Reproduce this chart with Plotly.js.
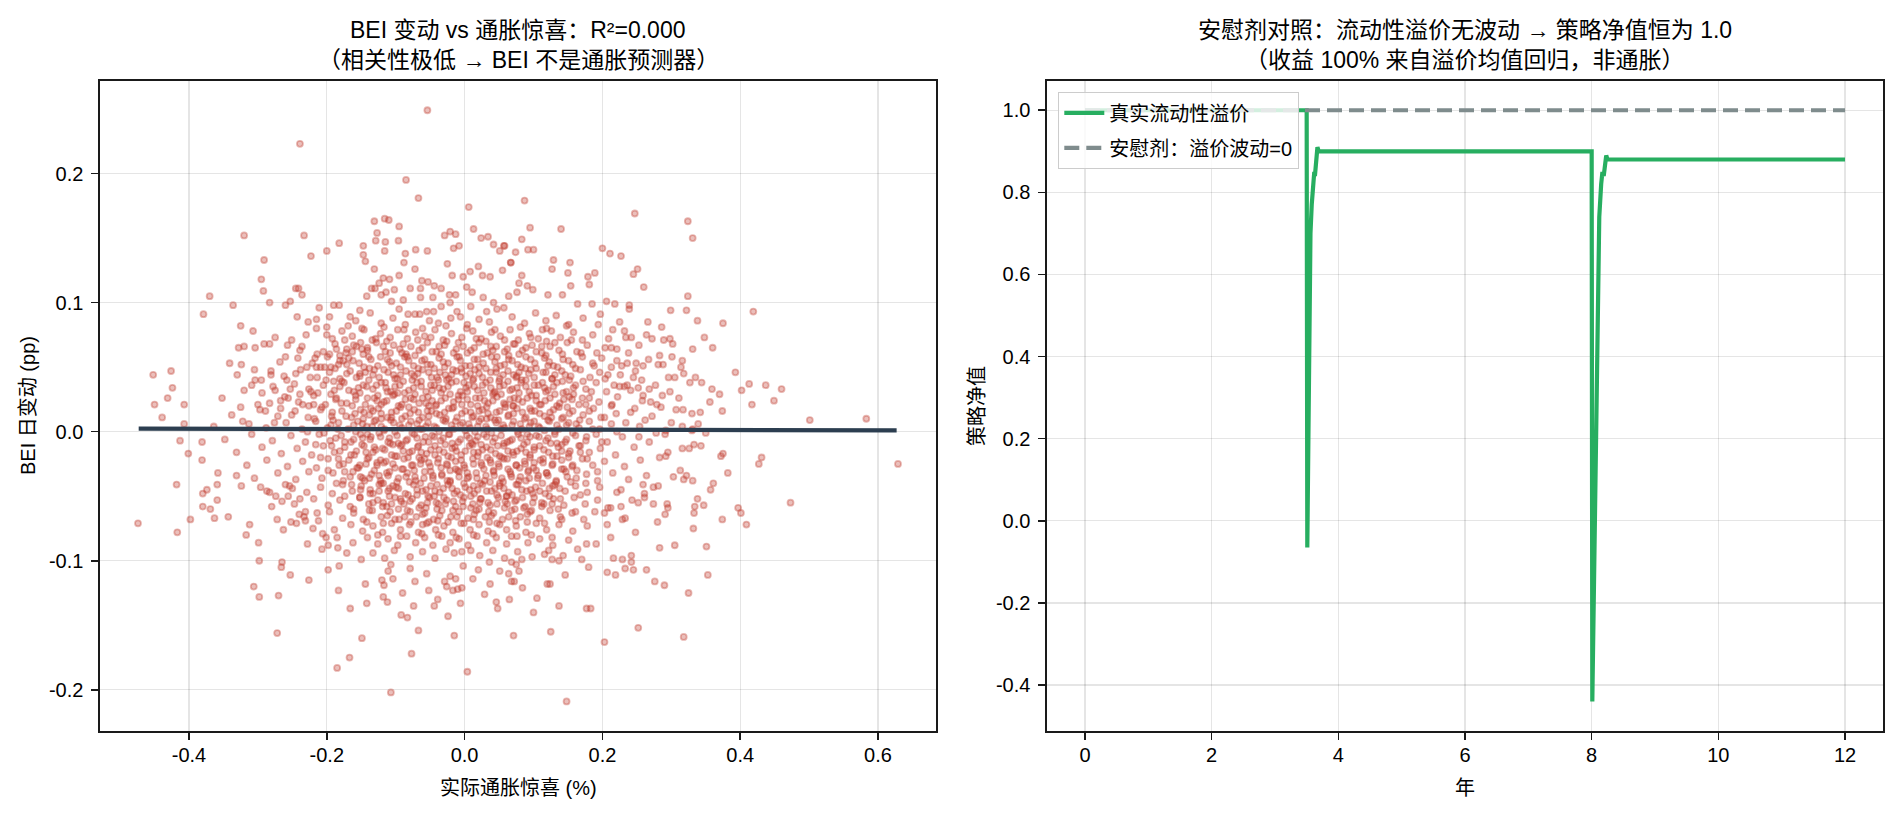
<!DOCTYPE html>
<html>
<head>
<meta charset="utf-8">
<script src="https://cdn.plot.ly/plotly-3.0.1.min.js"></script>
<style>
  html, body { margin: 0; padding: 0; background: #fff; }
  #chart { width: 1899px; height: 816px; }
</style>
</head>
<body>
<div id="chart"></div>
<script>
// Left panel: [inflation surprise %, BEI daily change pp]
const outerUpperLeft = [
  [-0.054,0.249],[-0.239,0.223],[-0.085,0.195],[-0.067,0.181],[0.006,0.174],[-0.131,0.163],[-0.116,0.165],[-0.110,0.164],
  [-0.095,0.159],[-0.320,0.152],[-0.233,0.152],[-0.127,0.154],[-0.129,0.148],[-0.115,0.147],[-0.096,0.148],[-0.029,0.152],
  [-0.021,0.155],[-0.013,0.153],[0.013,0.157],[-0.008,0.144],[-0.016,0.142],[-0.182,0.146],[-0.200,0.140],[-0.223,0.136],
  [-0.291,0.133],[-0.147,0.144],[-0.147,0.137],[-0.144,0.132],[-0.116,0.140],[-0.086,0.138],[-0.071,0.141],[-0.054,0.140],
  [-0.088,0.131],[-0.072,0.126],[-0.131,0.126],[-0.025,0.130],[-0.018,0.121],[-0.002,0.120],[0.008,0.124],[0.020,0.128],
  [0.024,0.150],[0.034,0.151],[0.042,0.145],[0.051,0.140],[0.058,0.144],[0.067,0.131],[0.055,0.125],[0.026,0.121],
  [0.037,0.120],[-0.295,0.118],[-0.292,0.109],[-0.245,0.111],[-0.241,0.111],[-0.236,0.106],[-0.283,0.100],[-0.370,0.105],
  [-0.379,0.091],[-0.336,0.098],[-0.260,0.098],[-0.253,0.101],[-0.243,0.089],[-0.325,0.082],[-0.307,0.078],[-0.328,0.065],
  [-0.320,0.066],[-0.304,0.065],[-0.291,0.068],[-0.283,0.068],[-0.275,0.073],[-0.260,0.058],[-0.257,0.067],[-0.251,0.071],
  [-0.239,0.063],[-0.230,0.075],[-0.227,0.085],[-0.215,0.087],[-0.215,0.080],[-0.211,0.096],[-0.200,0.081],[-0.200,0.075],
  [-0.196,0.089],[-0.190,0.098],[-0.182,0.098],[-0.169,0.082],[-0.166,0.089],[-0.152,0.094],[-0.142,0.105],[-0.135,0.111],
  [-0.130,0.111],[-0.124,0.115],[-0.118,0.119],[-0.109,0.118],[-0.095,0.121],[-0.121,0.106],[-0.114,0.108],[-0.102,0.110],
  [-0.089,0.102],[-0.079,0.111],[-0.064,0.111],[-0.062,0.117],[-0.053,0.116],[-0.044,0.113],[-0.034,0.111],[-0.046,0.104],
  [-0.022,0.106],[-0.013,0.106],[0.003,0.112],[0.011,0.108],[0.027,0.104],[0.042,0.100],[0.064,0.105],[0.076,0.108],
  [-0.064,0.104],[-0.106,0.101],[-0.095,0.095],[-0.082,0.091],[-0.072,0.091],[-0.065,0.091],[-0.055,0.093],[-0.045,0.093],
  [-0.034,0.097],[-0.021,0.100],[-0.020,0.088],[-0.006,0.089],[0.009,0.097],[0.032,0.093],[0.047,0.095],[0.057,0.096],
  [-0.452,0.044],[-0.426,0.047],[-0.424,0.034],[-0.431,0.026],[-0.450,0.021],[-0.407,0.021],[-0.439,0.011],[-0.341,0.053],
  [-0.324,0.052],[-0.330,0.044],[-0.305,0.048],[-0.304,0.040],[-0.295,0.040],[-0.281,0.044],[-0.278,0.035],[-0.320,0.032],
  [-0.294,0.030],[-0.300,0.021],[-0.289,0.016],[-0.325,0.019],[-0.267,0.024],[-0.267,0.018],[-0.258,0.040],[-0.245,0.045],
  [-0.239,0.029],[-0.229,0.050],[-0.224,0.042],[-0.226,0.033],[-0.253,0.033],[-0.256,0.026],[-0.235,0.021],[-0.219,0.021],
  [-0.251,0.013],[-0.276,0.007],[-0.313,0.006],[-0.407,0.006],[-0.214,0.060],[-0.217,0.057],[-0.215,0.050],[-0.203,0.050],
  [-0.194,0.050],[-0.190,0.039],[-0.181,0.055],[-0.176,0.055],[-0.186,0.064],[-0.171,0.064],[-0.161,0.067],[-0.149,0.064]
];

const outerUpperRight = [
  [0.087,0.179],[0.247,0.169],[0.324,0.163],[0.331,0.150],[0.095,0.158],[0.140,0.157],[0.083,0.149],[0.057,0.144],
  [0.074,0.139],[0.092,0.141],[0.100,0.141],[0.067,0.131],[0.129,0.133],[0.127,0.126],[0.153,0.131],[0.150,0.123],
  [0.200,0.142],[0.211,0.138],[0.227,0.136],[0.179,0.120],[0.189,0.123],[0.181,0.114],[0.251,0.126],[0.245,0.122],
  [0.260,0.112],[0.083,0.121],[0.079,0.115],[0.091,0.113],[0.099,0.110],[0.121,0.106],[0.142,0.106],[0.154,0.113],
  [0.164,0.099],[0.185,0.099],[0.206,0.101],[0.218,0.099],[0.239,0.098],[0.239,0.095],[0.299,0.094],[0.322,0.094],
  [0.324,0.105],[0.419,0.093],[0.338,0.086],[0.375,0.084],[0.266,0.085],[0.286,0.081],[0.348,0.073],[0.360,0.065],
  [0.331,0.064],[0.393,0.046],[0.413,0.037],[0.402,0.032],[0.437,0.036],[0.460,0.033],[0.449,0.024],[0.417,0.021],
  [0.501,0.009],[0.583,0.010],[0.374,0.016],[0.330,0.014],[0.342,0.015],[0.307,0.017],[0.317,0.017],[0.359,0.033],
  [0.370,0.029],[0.335,0.042],[0.344,0.038],[0.327,0.038],[0.316,0.055],[0.314,0.050],[0.296,0.042],[0.305,0.042],
  [0.283,0.059],[0.281,0.052],[0.288,0.052],[0.287,0.028],[0.277,0.036],[0.264,0.075],[0.272,0.072],[0.289,0.071],
  [0.298,0.072],[0.302,0.068],[0.238,0.061],[0.249,0.053],[0.259,0.051],[0.245,0.042],[0.257,0.040],[0.234,0.073],
  [0.242,0.073],[0.225,0.085],[0.215,0.079],[0.194,0.083],[0.204,0.065],[0.213,0.065],[0.221,0.055],[0.228,0.051],
  [0.208,0.044],[0.213,0.050],[0.217,0.036],[0.225,0.035],[0.232,0.035],[0.241,0.032],[0.252,0.034],[0.259,0.028],
  [0.270,0.023],[0.279,0.021],[0.247,0.018],[0.214,0.021],[0.220,0.014],[0.234,0.007],[0.254,0.004],[0.300,0.007],
  [0.339,0.006],[0.292,0.001],[0.331,0.002]
];

const outerLowerLeft = [
  [-0.474,-0.071],[-0.417,-0.078],[-0.418,-0.041],[-0.413,-0.007],[-0.381,-0.008],[-0.401,-0.017],[-0.381,-0.022],[-0.398,-0.068],
  [-0.380,-0.048],[-0.374,-0.045],[-0.380,-0.058],[-0.369,-0.060],[-0.359,-0.053],[-0.359,-0.041],[-0.358,-0.032],[-0.363,-0.067],
  [-0.343,-0.066],[-0.331,-0.034],[-0.324,-0.042],[-0.312,-0.072],[-0.317,-0.080],[-0.299,-0.086],[-0.298,-0.100],[-0.306,-0.120],
  [-0.298,-0.128],[-0.270,-0.127],[-0.272,-0.156],[-0.265,-0.101],[-0.266,-0.105],[-0.253,-0.111],[-0.226,-0.115],[-0.296,-0.043],
  [-0.283,-0.047],[-0.280,-0.058],[-0.272,-0.068],[-0.263,-0.076],[-0.252,-0.070],[-0.244,-0.071],[-0.260,-0.041],[-0.250,-0.044],
  [-0.274,-0.050],[-0.265,-0.054],[-0.256,-0.050],[-0.239,-0.052],[-0.240,-0.064],[-0.231,-0.062],[-0.231,-0.069],[-0.220,-0.075],
  [-0.214,-0.063],[-0.212,-0.069],[-0.228,-0.087],[-0.206,-0.079],[-0.201,-0.082],[-0.198,-0.088],[-0.207,-0.091],[-0.185,-0.082],
  [-0.184,-0.090],[-0.171,-0.094],[-0.198,-0.107],[-0.182,-0.104],[-0.183,-0.123],[-0.166,-0.137],[-0.142,-0.133],[-0.144,-0.118],
  [-0.149,-0.160],[-0.167,-0.175],[-0.185,-0.183],[-0.107,-0.202],[-0.077,-0.172],[0.004,-0.186],[-0.015,-0.158],[-0.067,-0.154],
  [-0.092,-0.142],[-0.083,-0.144],[-0.074,-0.135],[-0.044,-0.135],[-0.039,-0.130],[-0.024,-0.143],[-0.006,-0.133],[-0.052,-0.123],
  [-0.090,-0.125],[-0.118,-0.128],[-0.112,-0.132],[-0.120,-0.115],[-0.117,-0.119],[-0.104,-0.114],[-0.111,-0.108],[-0.072,-0.116],
  [-0.055,-0.110],[-0.079,-0.106],[-0.107,-0.103],[-0.116,-0.098],[-0.150,-0.099],[-0.029,-0.116],[-0.021,-0.112],[-0.013,-0.114],
  [-0.026,-0.120],[-0.017,-0.123],[-0.010,-0.122],[-0.004,-0.121],[0.029,-0.126],[0.046,-0.132],[0.048,-0.137],[0.071,-0.158],
  [0.065,-0.130],[0.037,-0.118],[0.012,-0.114],[0.020,-0.107],[0.051,-0.108],[0.064,-0.110],[0.036,-0.101],[-0.002,-0.104],
  [0.009,-0.092],[-0.015,-0.094],[-0.004,-0.093]
];

const outerLowerRight = [
  [0.629,-0.025],[0.473,-0.055],[0.431,-0.020],[0.427,-0.025],[0.382,-0.032],[0.361,-0.040],[0.357,-0.045],[0.397,-0.059],
  [0.401,-0.063],[0.409,-0.072],[0.374,-0.068],[0.375,-0.017],[0.372,-0.019],[0.343,-0.011],[0.333,-0.010],[0.316,-0.013],
  [0.326,-0.013],[0.313,-0.030],[0.322,-0.034],[0.331,-0.038],[0.318,-0.037],[0.303,-0.035],[0.338,-0.052],[0.334,-0.058],
  [0.347,-0.057],[0.333,-0.063],[0.332,-0.075],[0.351,-0.089],[0.353,-0.111],[0.325,-0.125],[0.318,-0.159],[0.252,-0.152],
  [0.203,-0.163],[0.148,-0.209],[0.125,-0.155],[0.100,-0.140],[0.105,-0.129],[0.137,-0.135],[0.177,-0.137],[0.183,-0.137],
  [0.084,-0.121],[0.120,-0.118],[0.124,-0.118],[0.146,-0.111],[0.180,-0.105],[0.207,-0.109],[0.219,-0.111],[0.216,-0.098],
  [0.229,-0.099],[0.242,-0.096],[0.242,-0.101],[0.233,-0.106],[0.245,-0.107],[0.264,-0.107],[0.276,-0.116],[0.290,-0.119],
  [0.283,-0.090],[0.305,-0.088],[0.248,-0.078],[0.212,-0.082],[0.207,-0.072],[0.229,-0.068],[0.233,-0.067],[0.208,-0.059],
  [0.212,-0.059],[0.203,-0.063],[0.280,-0.070],[0.291,-0.064],[0.294,-0.056],[0.295,-0.059],[0.274,-0.056],[0.261,-0.048],
  [0.261,-0.051],[0.274,-0.043],[0.281,-0.042],[0.243,-0.053],[0.259,-0.041],[0.264,-0.034],[0.221,-0.047],[0.191,-0.087],
  [0.177,-0.087],[0.170,-0.099],[0.164,-0.091],[0.127,-0.099],[0.137,-0.100],[0.116,-0.095],[0.079,-0.108],[0.068,-0.116],
  [0.072,-0.116],[0.083,-0.099],[0.068,-0.101],[0.075,-0.103],[0.283,-0.020],[0.292,-0.019],[0.295,-0.016],[0.253,-0.004],
  [0.278,-0.001],[0.291,-0.002],[0.350,-0.001],[0.330,0.001]
];

const coreUpper = [
  [-0.158,0.086],[-0.137,0.092],[-0.121,0.084],[-0.104,0.088],[-0.086,0.083],[-0.051,0.086],[-0.038,0.084],[-0.011,0.093],
  [0.004,0.083],[0.021,0.087],[0.036,0.085],[0.069,0.089],[0.087,0.084],[0.103,0.092],[0.118,0.086],[0.133,0.090],
  [0.151,0.083],[0.172,0.088],[0.197,0.091],[0.113,0.079],
  [-0.192,0.072],[-0.178,0.078],[-0.163,0.074],[-0.146,0.079],[-0.134,0.071],[-0.122,0.076],[-0.108,0.073],[-0.097,0.079],
  [-0.083,0.072],[-0.071,0.077],[-0.058,0.074],[-0.043,0.079],[-0.031,0.071],[-0.019,0.076],[-0.004,0.073],[0.012,0.078],
  [0.024,0.072],[0.039,0.077],[0.052,0.074],[0.066,0.079],[0.078,0.071],[0.094,0.076],[0.107,0.072],[0.126,0.078],
  [0.139,0.073],[0.158,0.077],[0.171,0.071],[0.186,0.075],[0.209,0.072],[0.232,0.078],
  [-0.236,0.066],[-0.205,0.062],[-0.188,0.068],[-0.172,0.061],[-0.157,0.066],[-0.141,0.063],[-0.128,0.069],[-0.115,0.062],
  [-0.103,0.067],[-0.091,0.061],[-0.078,0.066],[-0.066,0.063],[-0.054,0.069],[-0.041,0.062],[-0.029,0.067],[-0.016,0.061],
  [-0.002,0.066],[0.009,0.063],[0.021,0.069],[0.033,0.061],[0.046,0.066],[0.058,0.062],[0.071,0.068],[0.084,0.063],
  [0.098,0.067],[0.112,0.061],[0.124,0.066],[0.137,0.063],[0.149,0.069],[0.163,0.062],[0.178,0.067],[0.192,0.061],
  [0.221,0.064],[0.253,0.067],[0.047,0.058],[-0.083,0.058],
  [-0.268,0.054],[-0.242,0.057],[-0.221,0.053],[-0.199,0.058],[-0.183,0.052],[-0.168,0.057],[-0.153,0.053],[-0.139,0.058],
  [-0.126,0.051],[-0.112,0.056],[-0.099,0.053],[-0.087,0.058],[-0.074,0.051],[-0.062,0.055],[-0.049,0.052],[-0.037,0.057],
  [-0.024,0.053],[-0.011,0.058],[0.001,0.051],[0.014,0.056],[0.027,0.053],[0.039,0.058],[0.052,0.051],[0.064,0.056],
  [0.077,0.052],[0.089,0.058],[0.102,0.053],[0.116,0.057],[0.129,0.051],[0.143,0.056],[0.157,0.052],[0.171,0.058],
  [0.186,0.053],[0.199,0.057],[0.236,0.053],[0.267,0.056],[0.301,0.058],
  [-0.281,0.047],[-0.262,0.043],[-0.238,0.048],[-0.214,0.042],[-0.196,0.046],[-0.181,0.041],[-0.166,0.047],[-0.152,0.043],
  [-0.138,0.049],[-0.124,0.042],[-0.111,0.046],[-0.098,0.041],[-0.085,0.047],[-0.073,0.043],[-0.061,0.048],[-0.048,0.042],
  [-0.036,0.046],[-0.023,0.041],[-0.012,0.047],[0.002,0.043],[0.015,0.048],[0.026,0.042],[0.038,0.046],[0.051,0.041],
  [0.063,0.047],[0.076,0.043],[0.088,0.049],[0.101,0.042],[0.114,0.046],[0.127,0.041],[0.141,0.047],[0.154,0.043],
  [0.168,0.048],[0.182,0.042],[0.196,0.046],[0.226,0.044],[0.248,0.047],[0.318,0.045],[-0.005,0.049],[0.083,0.040],
  [-0.309,0.036],[-0.275,0.032],[-0.247,0.037],[-0.223,0.031],[-0.205,0.036],[-0.189,0.032],[-0.175,0.038],[-0.161,0.031],
  [-0.147,0.036],[-0.133,0.033],[-0.121,0.038],[-0.107,0.031],[-0.094,0.036],[-0.081,0.032],[-0.069,0.038],[-0.056,0.031],
  [-0.044,0.036],[-0.031,0.033],[-0.019,0.038],[-0.006,0.031],[0.006,0.036],[0.019,0.032],[0.031,0.038],[0.044,0.031],
  [0.057,0.036],[0.069,0.033],[0.082,0.038],[0.094,0.031],[0.107,0.036],[0.121,0.032],[0.134,0.038],[0.148,0.031],
  [0.161,0.036],[0.176,0.033],[0.191,0.038],[0.206,0.031],[0.236,0.036],[0.268,0.033],[0.298,0.031],[-0.038,0.040],[0.012,0.040],
  [-0.352,0.026],[-0.283,0.022],[-0.261,0.027],[-0.241,0.023],[-0.219,0.028],[-0.202,0.021],[-0.186,0.026],[-0.171,0.022],
  [-0.158,0.028],[-0.144,0.021],[-0.131,0.026],[-0.117,0.023],[-0.104,0.028],[-0.091,0.021],[-0.078,0.026],[-0.066,0.022],
  [-0.053,0.027],[-0.041,0.021],[-0.028,0.026],[-0.016,0.023],[-0.003,0.028],[0.009,0.021],[0.022,0.026],[0.034,0.022],
  [0.047,0.027],[0.059,0.021],[0.072,0.026],[0.084,0.023],[0.097,0.028],[0.111,0.021],[0.124,0.026],[0.138,0.022],
  [0.152,0.027],[0.166,0.021],[0.181,0.026],[0.195,0.023],[0.222,0.027],[0.258,0.024],[0.311,0.026],[0.356,0.023],
  [-0.097,0.030],[0.043,0.030],
  [-0.338,0.013],[-0.297,0.017],[-0.271,0.012],[-0.246,0.016],[-0.227,0.011],[-0.209,0.017],[-0.193,0.012],[-0.178,0.016],
  [-0.164,0.011],[-0.151,0.017],[-0.138,0.013],[-0.125,0.018],[-0.112,0.011],[-0.099,0.016],[-0.086,0.012],[-0.073,0.017],
  [-0.061,0.011],[-0.048,0.016],[-0.036,0.013],[-0.023,0.018],[-0.011,0.011],[0.001,0.016],[0.013,0.012],[0.026,0.017],
  [0.038,0.011],[0.051,0.016],[0.064,0.013],[0.076,0.018],[0.089,0.011],[0.102,0.016],[0.116,0.012],[0.129,0.017],
  [0.143,0.011],[0.157,0.016],[0.172,0.013],[0.187,0.018],[0.203,0.011],[0.241,0.015],[0.272,0.012],[0.285,0.019],
  [-0.052,0.020],[0.070,0.020],
  [-0.364,0.004],[-0.322,0.008],[-0.288,0.003],[-0.259,0.007],[-0.236,0.002],[-0.216,0.008],[-0.199,0.003],[-0.183,0.007],
  [-0.169,0.002],[-0.155,0.008],[-0.142,0.004],[-0.129,0.009],[-0.116,0.002],[-0.103,0.007],[-0.091,0.003],[-0.078,0.008],
  [-0.065,0.002],[-0.053,0.007],[-0.041,0.003],[-0.028,0.008],[-0.016,0.002],[-0.003,0.007],[0.008,0.003],[0.021,0.008],
  [0.033,0.002],[0.046,0.007],[0.058,0.003],[0.071,0.008],[0.083,0.002],[0.096,0.007],[0.109,0.003],[0.123,0.008],
  [0.137,0.002],[0.151,0.007],[0.166,0.003],[0.181,0.008],[0.196,0.002],[0.213,0.006],[0.262,0.009],[0.316,0.004],
  [0.032,0.010],[-0.121,0.010]
];

const coreLower = [
  [-0.348,-0.006],[-0.309,-0.002],[-0.279,-0.007],[-0.252,-0.003],[-0.231,-0.008],[-0.211,-0.002],[-0.195,-0.007],[-0.179,-0.003],
  [-0.165,-0.008],[-0.151,-0.002],[-0.137,-0.006],[-0.124,-0.001],[-0.111,-0.008],[-0.098,-0.003],[-0.085,-0.007],[-0.073,-0.002],
  [-0.060,-0.008],[-0.047,-0.003],[-0.035,-0.007],[-0.022,-0.002],[-0.009,-0.008],[0.003,-0.003],[0.016,-0.007],[0.028,-0.002],
  [0.041,-0.008],[0.053,-0.003],[0.066,-0.007],[0.078,-0.002],[0.091,-0.008],[0.104,-0.003],[0.118,-0.007],[0.131,-0.002],
  [0.146,-0.008],[0.161,-0.003],[0.176,-0.007],[0.191,-0.002],[0.207,-0.008],[0.229,-0.004],[0.268,-0.008],[0.012,-0.010],[-0.104,-0.010],
  [-0.331,-0.016],[-0.294,-0.012],[-0.266,-0.017],[-0.243,-0.013],[-0.222,-0.018],[-0.205,-0.011],[-0.189,-0.016],[-0.174,-0.012],
  [-0.160,-0.018],[-0.146,-0.011],[-0.133,-0.016],[-0.119,-0.013],[-0.106,-0.018],[-0.093,-0.011],[-0.080,-0.016],[-0.068,-0.012],
  [-0.055,-0.017],[-0.043,-0.011],[-0.030,-0.016],[-0.018,-0.013],[-0.005,-0.018],[0.007,-0.011],[0.020,-0.016],[0.032,-0.012],
  [0.045,-0.017],[0.057,-0.011],[0.070,-0.016],[0.082,-0.013],[0.095,-0.018],[0.109,-0.011],[0.122,-0.016],[0.136,-0.012],
  [0.151,-0.017],[0.166,-0.011],[0.181,-0.016],[0.197,-0.013],[0.219,-0.018],[0.246,-0.012],[-0.066,-0.020],[0.054,-0.020],
  [-0.316,-0.026],[-0.287,-0.022],[-0.257,-0.027],[-0.235,-0.023],[-0.215,-0.028],[-0.198,-0.021],[-0.182,-0.026],[-0.168,-0.022],
  [-0.154,-0.028],[-0.141,-0.021],[-0.127,-0.026],[-0.114,-0.023],[-0.101,-0.028],[-0.088,-0.021],[-0.075,-0.026],[-0.063,-0.022],
  [-0.050,-0.027],[-0.038,-0.021],[-0.025,-0.026],[-0.013,-0.023],[0.000,-0.028],[0.012,-0.021],[0.025,-0.026],[0.037,-0.022],
  [0.050,-0.027],[0.062,-0.021],[0.075,-0.026],[0.087,-0.023],[0.100,-0.028],[0.114,-0.021],[0.127,-0.026],[0.141,-0.022],
  [0.156,-0.027],[0.171,-0.021],[0.186,-0.026],[0.203,-0.023],[0.232,-0.027],[0.255,-0.022],[-0.021,-0.030],[0.093,-0.030],
  [-0.305,-0.036],[-0.271,-0.032],[-0.245,-0.037],[-0.226,-0.031],[-0.207,-0.036],[-0.191,-0.032],[-0.176,-0.038],[-0.162,-0.031],
  [-0.148,-0.036],[-0.135,-0.033],[-0.122,-0.038],[-0.109,-0.031],[-0.096,-0.036],[-0.083,-0.032],[-0.071,-0.038],[-0.058,-0.031],
  [-0.046,-0.036],[-0.033,-0.033],[-0.021,-0.038],[-0.008,-0.031],[0.004,-0.036],[0.017,-0.032],[0.029,-0.038],[0.042,-0.031],
  [0.054,-0.036],[0.067,-0.033],[0.079,-0.038],[0.092,-0.031],[0.106,-0.036],[0.119,-0.032],[0.133,-0.038],[0.147,-0.031],
  [0.162,-0.036],[0.177,-0.033],[0.193,-0.038],[0.215,-0.032],[0.238,-0.037],[-0.118,-0.040],[0.023,-0.040],
  [-0.287,-0.046],[-0.254,-0.042],[-0.229,-0.047],[-0.209,-0.043],[-0.192,-0.048],[-0.177,-0.041],[-0.163,-0.046],[-0.150,-0.042],
  [-0.137,-0.048],[-0.124,-0.041],[-0.111,-0.046],[-0.099,-0.043],[-0.086,-0.048],[-0.074,-0.041],[-0.061,-0.046],[-0.049,-0.042],
  [-0.036,-0.047],[-0.024,-0.041],[-0.011,-0.046],[0.001,-0.043],[0.014,-0.048],[0.026,-0.041],[0.039,-0.046],[0.051,-0.042],
  [0.064,-0.047],[0.077,-0.041],[0.090,-0.046],[0.103,-0.043],[0.117,-0.048],[0.131,-0.041],[0.146,-0.046],[0.161,-0.042],
  [0.178,-0.047],[0.196,-0.043],[0.227,-0.045],[-0.044,-0.050],[0.061,-0.050],
  [-0.247,-0.056],[-0.219,-0.052],[-0.198,-0.057],[-0.181,-0.053],[-0.166,-0.058],[-0.152,-0.051],[-0.139,-0.056],[-0.126,-0.053],
  [-0.113,-0.058],[-0.101,-0.051],[-0.088,-0.056],[-0.076,-0.052],[-0.063,-0.057],[-0.051,-0.051],[-0.038,-0.056],[-0.026,-0.053],
  [-0.013,-0.058],[-0.001,-0.051],[0.012,-0.056],[0.024,-0.052],[0.037,-0.057],[0.049,-0.051],[0.062,-0.056],[0.075,-0.053],
  [0.088,-0.058],[0.101,-0.051],[0.115,-0.056],[0.129,-0.052],[0.144,-0.057],[0.159,-0.051],[0.175,-0.056],[0.193,-0.053],
  [0.227,-0.058],[0.252,-0.055],
  [-0.233,-0.066],[-0.196,-0.062],[-0.177,-0.067],[-0.161,-0.063],[-0.147,-0.068],[-0.134,-0.061],[-0.121,-0.066],[-0.108,-0.062],
  [-0.095,-0.068],[-0.083,-0.061],[-0.070,-0.066],[-0.058,-0.063],[-0.045,-0.068],[-0.033,-0.061],[-0.020,-0.066],[-0.008,-0.062],
  [0.005,-0.067],[0.017,-0.061],[0.030,-0.066],[0.042,-0.063],[0.055,-0.068],[0.068,-0.061],[0.081,-0.066],[0.095,-0.062],
  [0.109,-0.067],[0.124,-0.061],[0.139,-0.066],[0.156,-0.063],[0.173,-0.068],[0.189,-0.062],[-0.052,-0.070],
  [-0.189,-0.076],[-0.165,-0.072],[-0.148,-0.077],[-0.133,-0.073],[-0.119,-0.078],[-0.106,-0.071],[-0.093,-0.076],[-0.080,-0.072],
  [-0.067,-0.078],[-0.055,-0.071],[-0.042,-0.076],[-0.030,-0.073],[-0.017,-0.078],[-0.005,-0.071],[0.008,-0.076],[0.021,-0.072],
  [0.034,-0.077],[0.047,-0.071],[0.061,-0.076],[0.075,-0.073],[0.089,-0.078],[0.104,-0.071],[0.119,-0.076],[0.137,-0.072],
  [0.157,-0.077],[0.178,-0.073],
  [-0.162,-0.086],[-0.141,-0.082],[-0.126,-0.087],[-0.111,-0.083],[-0.097,-0.088],[-0.084,-0.081],[-0.071,-0.086],[-0.058,-0.082],
  [-0.046,-0.088],[-0.033,-0.081],[-0.021,-0.086],[-0.008,-0.083],[0.005,-0.088],[0.018,-0.081],[0.032,-0.086],[0.046,-0.082],
  [0.061,-0.087],[0.076,-0.081],[0.092,-0.086],[0.109,-0.083],[0.128,-0.088],[0.151,-0.084],
  [-0.133,-0.094],[-0.102,-0.092],[-0.079,-0.097],[-0.061,-0.093],[-0.043,-0.098],[-0.027,-0.091],[0.022,-0.096],[0.041,-0.092],
  [0.058,-0.098],[0.077,-0.093],[0.098,-0.097],[0.122,-0.092],[0.143,-0.096]
];

const coreDense = [
  [-0.152,0.045],[-0.133,0.044],[-0.117,0.048],[-0.093,0.044],[-0.068,0.045],[-0.044,0.049],[-0.019,0.044],[0.008,0.045],
  [0.031,0.049],[0.056,0.044],[0.079,0.046],[0.104,0.049],[0.131,0.044],[-0.142,0.035],[-0.114,0.034],[-0.089,0.039],
  [-0.063,0.035],[-0.037,0.034],[-0.012,0.039],[0.014,0.035],[0.038,0.034],[0.063,0.039],[0.089,0.035],[0.116,0.034],
  [0.142,0.039],[-0.158,0.025],[-0.127,0.024],[-0.102,0.029],[-0.074,0.025],[-0.047,0.024],[-0.021,0.029],[0.004,0.025],
  [0.029,0.024],[0.053,0.029],[0.078,0.025],[0.104,0.024],[0.131,0.029],[0.156,0.025],[-0.146,0.015],[-0.121,0.014],
  [-0.093,0.019],[-0.067,0.015],[-0.041,0.014],[-0.016,0.019],[0.009,0.015],[0.034,0.014],[0.059,0.019],[0.084,0.015],
  [0.109,0.014],[0.137,0.019],[-0.161,0.005],[-0.134,0.004],[-0.107,0.009],[-0.081,0.005],[-0.056,0.004],[-0.031,0.009],
  [-0.006,0.005],[0.019,0.004],[0.044,0.009],[0.069,0.005],[0.094,0.004],[0.121,0.009],[0.148,0.005],[-0.148,-0.005],
  [-0.122,-0.004],[-0.096,-0.009],[-0.069,-0.005],[-0.044,-0.004],[-0.018,-0.009],[0.007,-0.005],[0.032,-0.004],[0.057,-0.009],
  [0.082,-0.005],[0.108,-0.004],[0.134,-0.009],[-0.157,-0.015],[-0.129,-0.014],[-0.101,-0.019],[-0.076,-0.015],[-0.049,-0.014],
  [-0.024,-0.019],[0.001,-0.015],[0.026,-0.014],[0.051,-0.019],[0.076,-0.015],[0.101,-0.014],[0.128,-0.019],[0.153,-0.015],
  [-0.143,-0.025],[-0.117,-0.024],[-0.091,-0.029],[-0.064,-0.025],[-0.039,-0.024],[-0.013,-0.029],[0.013,-0.025],[0.038,-0.024],
  [0.063,-0.029],[0.088,-0.025],[0.114,-0.024],[0.141,-0.029],[-0.151,-0.035],[-0.124,-0.034],[-0.098,-0.039],[-0.072,-0.035],
  [-0.046,-0.034],[-0.021,-0.039],[0.006,-0.035],[0.031,-0.034],[0.056,-0.039],[0.081,-0.035],[0.107,-0.034],[0.133,-0.039],
  [-0.137,-0.045],[-0.109,-0.044],[-0.082,-0.049],[-0.056,-0.045],[-0.031,-0.044],[-0.006,-0.049],[0.019,-0.045],[0.044,-0.044],
  [0.069,-0.049],[0.096,-0.045],[0.123,-0.044],[-0.118,-0.055],[-0.092,-0.054],[-0.066,-0.059],[-0.041,-0.055],[-0.016,-0.054],
  [0.009,-0.059],[0.034,-0.055],[0.059,-0.054],[0.086,-0.059],[0.112,-0.055]
];

const coreFill = [
  [-0.174,0.071],[-0.151,0.069],[-0.129,0.072],[-0.113,0.070],[-0.089,0.068],[-0.068,0.071],[-0.049,0.073],[-0.026,0.070],
  [-0.009,0.069],[0.017,0.072],[0.031,0.070],[0.058,0.071],[0.073,0.068],[0.096,0.073],[0.119,0.070],[0.131,0.069],[0.155,0.071],
  [-0.196,0.060],[-0.181,0.059],[-0.163,0.062],[-0.147,0.060],[-0.122,0.058],[-0.108,0.061],[-0.085,0.060],[-0.072,0.059],
  [-0.047,0.062],[-0.034,0.060],[-0.008,0.058],[0.004,0.061],[0.027,0.060],[0.041,0.063],[0.064,0.059],[0.079,0.060],
  [0.104,0.062],[0.118,0.059],[0.142,0.060],[0.169,0.061],
  [-0.209,0.050],[-0.188,0.049],[-0.171,0.052],[-0.146,0.050],[-0.131,0.048],[-0.106,0.051],[-0.093,0.050],[-0.067,0.049],
  [-0.054,0.052],[-0.029,0.050],[-0.017,0.048],[0.008,0.051],[0.021,0.050],[0.046,0.049],[0.058,0.052],[0.082,0.050],
  [0.096,0.048],[0.121,0.051],[0.135,0.050],[0.161,0.049],[0.188,0.051],
  [-0.201,0.040],[-0.178,0.039],[-0.157,0.042],[-0.139,0.040],[-0.115,0.038],[-0.101,0.041],[-0.076,0.040],[-0.063,0.039],
  [-0.040,0.042],[-0.026,0.040],[-0.001,0.038],[0.013,0.041],[0.037,0.040],[0.050,0.039],[0.075,0.042],[0.089,0.040],
  [0.113,0.038],[0.127,0.041],[0.152,0.040],[0.172,0.039],[0.204,0.041],
  [-0.213,0.030],[-0.194,0.029],[-0.168,0.032],[-0.152,0.030],[-0.126,0.028],[-0.112,0.031],[-0.087,0.030],[-0.072,0.029],
  [-0.047,0.032],[-0.034,0.030],[-0.009,0.028],[0.004,0.031],[0.028,0.030],[0.041,0.029],[0.066,0.032],[0.079,0.030],
  [0.104,0.028],[0.118,0.031],[0.143,0.030],[0.158,0.029],[0.184,0.031],
  [-0.226,0.020],[-0.207,0.019],[-0.179,0.022],[-0.163,0.020],[-0.136,0.018],[-0.121,0.021],[-0.096,0.020],[-0.081,0.019],
  [-0.056,0.022],[-0.042,0.020],[-0.018,0.018],[-0.004,0.021],[0.019,0.020],[0.032,0.019],[0.057,0.022],[0.071,0.020],
  [0.095,0.018],[0.109,0.021],[0.134,0.020],[0.149,0.019],[0.176,0.021],[0.213,0.020],
  [-0.218,0.010],[-0.191,0.009],[-0.172,0.012],[-0.147,0.010],[-0.131,0.008],[-0.106,0.011],[-0.091,0.010],[-0.066,0.009],
  [-0.052,0.012],[-0.027,0.010],[-0.013,0.008],[0.011,0.011],[0.024,0.010],[0.049,0.009],[0.063,0.012],[0.087,0.010],
  [0.101,0.008],[0.126,0.011],[0.141,0.010],[0.167,0.009],[0.198,0.011],
  [-0.228,0.000],[-0.204,-0.001],[-0.184,0.002],[-0.158,0.000],[-0.141,-0.002],[-0.117,0.001],[-0.101,0.000],[-0.076,-0.001],
  [-0.061,0.002],[-0.037,0.000],[-0.023,-0.002],[0.001,0.001],[0.015,0.000],[0.039,-0.001],[0.053,0.002],[0.077,0.000],
  [0.091,-0.002],[0.116,0.001],[0.131,0.000],[0.157,-0.001],[0.186,0.002],[0.221,0.000],
  [-0.216,-0.010],[-0.193,-0.011],[-0.174,-0.008],[-0.149,-0.010],[-0.131,-0.012],[-0.108,-0.009],[-0.091,-0.010],[-0.067,-0.011],
  [-0.052,-0.008],[-0.028,-0.010],[-0.014,-0.012],[0.010,-0.009],[0.024,-0.010],[0.048,-0.011],[0.062,-0.008],[0.086,-0.010],
  [0.101,-0.012],[0.125,-0.009],[0.141,-0.010],[0.168,-0.011],[0.199,-0.008],
  [-0.209,-0.020],[-0.183,-0.021],[-0.165,-0.018],[-0.139,-0.020],[-0.122,-0.022],[-0.098,-0.019],[-0.082,-0.020],[-0.058,-0.021],
  [-0.043,-0.018],[-0.019,-0.020],[-0.005,-0.022],[0.019,-0.019],[0.033,-0.020],[0.057,-0.021],[0.071,-0.018],[0.095,-0.020],
  [0.110,-0.022],[0.134,-0.019],[0.151,-0.020],[0.178,-0.021],
  [-0.198,-0.030],[-0.174,-0.031],[-0.156,-0.028],[-0.131,-0.030],[-0.113,-0.032],[-0.089,-0.029],[-0.073,-0.030],[-0.049,-0.031],
  [-0.034,-0.028],[-0.010,-0.030],[0.004,-0.032],[0.028,-0.029],[0.042,-0.030],[0.066,-0.031],[0.080,-0.028],[0.104,-0.030],
  [0.119,-0.032],[0.144,-0.029],[0.163,-0.030],[0.193,-0.031],
  [-0.186,-0.040],[-0.164,-0.041],[-0.145,-0.038],[-0.121,-0.040],[-0.104,-0.042],[-0.080,-0.039],[-0.064,-0.040],[-0.040,-0.041],
  [-0.025,-0.038],[-0.001,-0.040],[0.013,-0.042],[0.037,-0.039],[0.051,-0.040],[0.075,-0.041],[0.089,-0.038],[0.113,-0.040],
  [0.128,-0.042],[0.154,-0.039],[0.176,-0.040],
  [-0.174,-0.050],[-0.152,-0.051],[-0.133,-0.048],[-0.109,-0.050],[-0.093,-0.052],[-0.069,-0.049],[-0.053,-0.050],[-0.030,-0.051],
  [-0.015,-0.048],[0.009,-0.050],[0.023,-0.052],[0.047,-0.049],[0.061,-0.050],[0.084,-0.051],[0.099,-0.048],[0.123,-0.050],
  [0.139,-0.052],[0.168,-0.049],
  [-0.161,-0.060],[-0.138,-0.061],[-0.119,-0.058],[-0.096,-0.060],[-0.079,-0.062],[-0.056,-0.059],[-0.040,-0.060],[-0.017,-0.061],
  [-0.002,-0.058],[0.021,-0.060],[0.035,-0.062],[0.058,-0.059],[0.073,-0.060],[0.097,-0.061],[0.112,-0.058],[0.136,-0.060],[0.161,-0.062],
  [-0.142,-0.070],[-0.118,-0.071],[-0.101,-0.068],[-0.078,-0.070],[-0.061,-0.072],[-0.039,-0.069],[-0.024,-0.070],[-0.001,-0.071],
  [0.013,-0.068],[0.036,-0.070],[0.051,-0.072],[0.074,-0.069],[0.091,-0.070],[0.116,-0.071],[0.141,-0.068],
  [-0.149,0.080],[-0.117,0.081],[-0.088,0.079],[-0.061,0.080],[-0.027,0.082],[0.003,0.080],[0.044,0.079],[0.081,0.081],
  [0.119,0.080],[0.148,0.082],
  [-0.126,-0.080],[-0.093,-0.081],[-0.062,-0.079],[-0.038,-0.080],[-0.012,-0.082],[0.013,-0.080],[0.041,-0.079],[0.068,-0.081],
  [0.097,-0.080],[0.127,-0.082]
];

const coreCenter = [
  [-0.141,0.065],[-0.118,0.066],[-0.094,0.064],[-0.061,0.065],[-0.037,0.066],[-0.012,0.064],[0.014,0.065],[0.038,0.066],
  [0.062,0.064],[0.089,0.065],[0.112,0.066],
  [-0.162,0.055],[-0.136,0.056],[-0.109,0.054],[-0.081,0.055],[-0.058,0.056],[-0.031,0.054],[-0.006,0.055],[0.019,0.056],
  [0.044,0.054],[0.069,0.055],[0.096,0.056],[0.123,0.054],[0.151,0.055],
  [-0.171,0.045],[-0.144,0.046],[-0.103,0.044],[-0.077,0.045],[-0.052,0.046],[-0.028,0.044],[-0.004,0.046],[0.021,0.045],
  [0.046,0.046],[0.071,0.044],[0.093,0.045],[0.118,0.046],[0.146,0.044],
  [-0.181,0.035],[-0.154,0.034],[-0.128,0.036],[-0.101,0.035],[-0.074,0.034],[-0.049,0.036],[-0.024,0.035],[0.002,0.034],
  [0.026,0.036],[0.051,0.035],[0.076,0.034],[0.101,0.036],[0.129,0.035],[0.158,0.034],
  [-0.187,0.025],[-0.141,0.026],[-0.113,0.024],[-0.086,0.025],[-0.061,0.026],[-0.034,0.024],[-0.009,0.025],[0.016,0.026],
  [0.041,0.024],[0.066,0.025],[0.091,0.026],[0.117,0.024],[0.144,0.025],[0.171,0.026],
  [-0.192,0.015],[-0.159,0.014],[-0.133,0.016],[-0.106,0.015],[-0.079,0.014],[-0.054,0.016],[-0.029,0.015],[-0.004,0.014],
  [0.021,0.016],[0.046,0.015],[0.071,0.014],[0.097,0.016],[0.124,0.015],[0.152,0.014],[0.181,0.016],
  [-0.194,0.005],[-0.148,0.006],[-0.121,0.004],[-0.094,0.005],[-0.069,0.006],[-0.044,0.004],[-0.019,0.005],[0.006,0.006],
  [0.031,0.004],[0.056,0.005],[0.081,0.006],[0.107,0.004],[0.134,0.005],[0.162,0.006],
  [-0.187,-0.005],[-0.161,-0.006],[-0.136,-0.004],[-0.109,-0.005],[-0.083,-0.006],[-0.057,-0.004],[-0.031,-0.005],[-0.006,-0.006],
  [0.019,-0.004],[0.044,-0.005],[0.069,-0.006],[0.095,-0.004],[0.121,-0.005],[0.148,-0.006],[0.177,-0.004],
  [-0.181,-0.015],[-0.143,-0.016],[-0.116,-0.014],[-0.089,-0.015],[-0.063,-0.016],[-0.037,-0.014],[-0.012,-0.015],[0.013,-0.016],
  [0.038,-0.014],[0.063,-0.015],[0.089,-0.016],[0.115,-0.014],[0.141,-0.015],[0.168,-0.016],
  [-0.176,-0.025],[-0.152,-0.026],[-0.127,-0.024],[-0.104,-0.025],[-0.077,-0.026],[-0.052,-0.024],[-0.026,-0.025],[-0.001,-0.026],
  [0.024,-0.024],[0.049,-0.025],[0.075,-0.026],[0.101,-0.024],[0.128,-0.025],[0.157,-0.026],
  [-0.166,-0.035],[-0.138,-0.036],[-0.111,-0.034],[-0.085,-0.035],[-0.059,-0.036],[-0.033,-0.034],[-0.008,-0.035],[0.018,-0.036],
  [0.043,-0.034],[0.068,-0.035],[0.094,-0.036],[0.121,-0.034],[0.149,-0.035],
  [-0.151,-0.045],[-0.124,-0.046],[-0.096,-0.044],[-0.069,-0.045],[-0.043,-0.046],[-0.018,-0.044],[0.007,-0.045],[0.032,-0.046],
  [0.057,-0.044],[0.083,-0.045],[0.109,-0.046],[0.138,-0.044],
  [-0.133,-0.055],[-0.106,-0.056],[-0.079,-0.054],[-0.054,-0.055],[-0.028,-0.056],[-0.003,-0.054],[0.022,-0.055],[0.047,-0.056],
  [0.073,-0.054],[0.099,-0.055],[0.127,-0.056],
  [-0.112,-0.065],[-0.087,-0.066],[-0.061,-0.064],[-0.036,-0.065],[-0.011,-0.066],[0.014,-0.064],[0.039,-0.065],[0.064,-0.066],
  [0.091,-0.064]
];

// Regression line end points (surprise, BEI change)
const fitSurprise = [-0.473, 0.627];
const fitBei = [0.0024, 0.0010];

// Right panel: strategy NAV by year
const navYears = [0, 3.50, 3.51, 3.54, 3.56, 3.58, 3.60, 3.62, 3.63, 3.65, 3.67, 3.69, 8.00, 8.01, 8.07, 8.12, 8.15, 8.17, 8.19, 8.21, 8.23, 8.25, 12];
const navReal = [1.0, 1.0, -0.065, 0.60, 0.70, 0.77, 0.82, 0.85, 0.84, 0.88, 0.91, 0.90, 0.90, -0.44, 0.30, 0.74, 0.82, 0.85, 0.84, 0.88, 0.89, 0.88, 0.88];
const placeboYears = [0, 12];
const navPlacebo = [1.0, 1.0];

// Tick labels
const leftXTicks = [-0.4, -0.2, 0.0, 0.2, 0.4, 0.6];
const leftYTicks = [-0.2, -0.1, 0.0, 0.1, 0.2];
const rightXTicks = [0, 2, 4, 6, 8, 10, 12];
const rightYTicks = [-0.4, -0.2, 0.0, 0.2, 0.4, 0.6, 0.8, 1.0];

const W = 1899, H = 816;
const FONT = 'Liberation Sans, Arial, "Noto Sans CJK SC", sans-serif';

const allPoints = outerUpperLeft.concat(outerUpperRight, outerLowerLeft, outerLowerRight, coreUpper, coreLower, coreDense, coreFill, coreCenter);
const surprise = allPoints.map(p => p[0]);
const beiChange = allPoints.map(p => p[1]);

function padded(vals) {
    const lo = Math.min(...vals), hi = Math.max(...vals);
    const pad = (hi - lo) * 0.05;
    return [lo - pad, hi + pad];
}

function axisStyle(ticks, digits, range, standoff) {
    return {
        range: range,
        tickmode: 'array',
        tickvals: ticks,
        ticktext: ticks.map(v => v.toFixed(digits)),
        showline: true, mirror: true, linecolor: '#1a1a1a', linewidth: 1.6,
        ticks: 'outside', ticklen: 7, tickwidth: 1.6, tickcolor: '#1a1a1a',
        ticklabelstandoff: standoff,
        showgrid: true, gridcolor: 'rgba(0,0,0,0.1)', gridwidth: 1.3,
        zeroline: false,
        tickfont: { family: FONT, size: 20, color: '#000' }
    };
}

const scatter = {
    x: surprise, y: beiChange,
    type: 'scatter', mode: 'markers',
    marker: { size: 6, color: 'rgba(192,57,43,0.32)', line: { color: 'rgba(192,57,43,0.36)', width: 1.8 } },
    xaxis: 'x', yaxis: 'y', showlegend: false, hoverinfo: 'none'
};

const fitLine = {
    x: fitSurprise, y: fitBei,
    type: 'scatter', mode: 'lines',
    line: { color: '#2c3e50', width: 4.2 },
    xaxis: 'x', yaxis: 'y', showlegend: false, hoverinfo: 'none'
};

const realLine = {
    x: navYears, y: navReal,
    type: 'scatter', mode: 'lines', name: '真实流动性溢价',
    line: { color: '#27ae60', width: 4.2 },
    xaxis: 'x2', yaxis: 'y2', legendgroup: 'a', hoverinfo: 'none'
};

const placeboLine = {
    x: placeboYears, y: navPlacebo,
    type: 'scatter', mode: 'lines', name: '安慰剂：溢价波动=0',
    line: { color: '#7f8c8d', width: 4.2, dash: '15px,7px' },
    xaxis: 'x2', yaxis: 'y2', legendgroup: 'b', hoverinfo: 'none'
};

function label(text, x, y, size, angle) {
    return {
        text: text, xref: 'paper', yref: 'paper', x: x / W, y: 1 - y / H,
        xanchor: 'center', yanchor: 'middle', showarrow: false,
        textangle: angle || 0,
        font: { family: FONT, size: size, color: '#000' }
    };
}

const plotTop = 80.7, plotBottom = 731;
const layout = {
    width: W, height: H,
    margin: { l: 0, r: 0, t: 0, b: 0 },
    paper_bgcolor: '#fff', plot_bgcolor: '#fff',
    font: { family: FONT, color: '#000' },
    xaxis: Object.assign(axisStyle(leftXTicks, 1, padded(surprise), -2), { domain: [100 / W, 936 / W], anchor: 'y' }),
    yaxis: Object.assign(axisStyle(leftYTicks, 1, padded(beiChange), 4), { domain: [1 - plotBottom / H, 1 - plotTop / H], anchor: 'x' }),
    xaxis2: Object.assign(axisStyle(rightXTicks, 0, padded(navYears), -2), { domain: [1047 / W, 1883 / W], anchor: 'y2' }),
    yaxis2: Object.assign(axisStyle(rightYTicks, 1, padded(navReal.concat(navPlacebo)), 4), { domain: [1 - plotBottom / H, 1 - plotTop / H], anchor: 'x2' }),
    legend: {
        x: 1058 / W, y: 1 - 92 / H, xanchor: 'left', yanchor: 'top',
        bgcolor: 'rgba(255,255,255,0.8)', bordercolor: '#cccccc', borderwidth: 1.3,
        font: { family: FONT, size: 20, color: '#000' },
        tracegroupgap: 6, itemwidth: 40
    },
    annotations: [
        label('BEI 变动 vs 通胀惊喜：R²=0.000', 518, 30, 23),
        label('（相关性极低 → BEI 不是通胀预测器）', 518, 60, 23),
        label('安慰剂对照：流动性溢价无波动 → 策略净值恒为 1.0', 1465, 30, 23),
        label('（收益 100% 来自溢价均值回归，非通胀）', 1465, 60, 23),
        label('实际通胀惊喜 (%)', 518, 788, 20),
        label('年', 1465, 788, 20),
        label('BEI 日变动 (pp)', 28, 406, 20, -90),
        label('策略净值', 977, 406, 20, -90)
    ]
};

Plotly.newPlot('chart', [scatter, fitLine, realLine, placeboLine], layout, { staticPlot: true, displayModeBar: false });
</script>
</body>
</html>
